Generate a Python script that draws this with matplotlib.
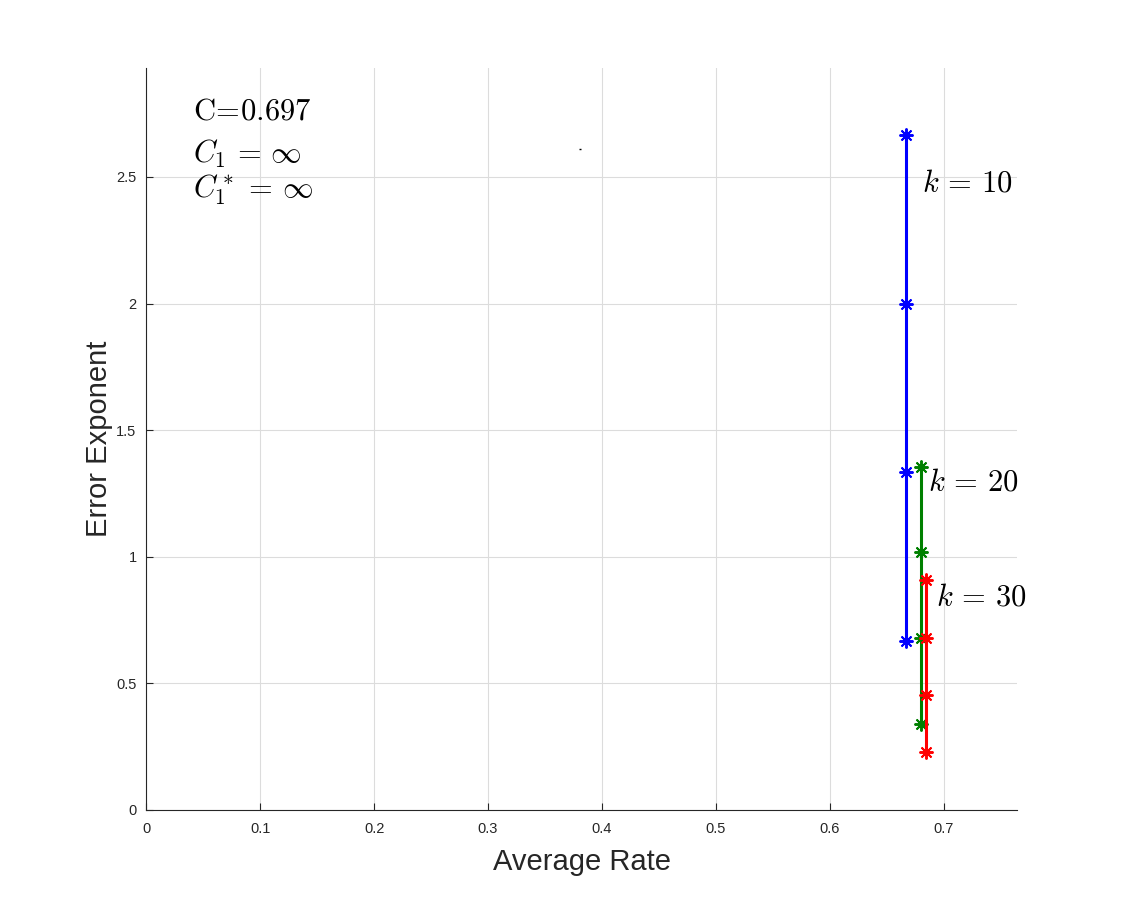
import numpy as np
import matplotlib.pyplot as plt

plt.rcParams['font.family'] = ['Liberation Sans', 'DejaVu Sans']
plt.rcParams['mathtext.fontset'] = 'cm'

# rate / exponent pairs for each k
rate_k10 = [0.6667, 0.6667, 0.6667, 0.6667]
exp_k10 = [0.667, 1.333, 2.0, 2.667]
rate_k20 = [0.680, 0.680, 0.680, 0.680]
exp_k20 = [0.339, 0.678, 1.017, 1.356]
rate_k30 = [0.685, 0.685, 0.685, 0.685]
exp_k30 = [0.227, 0.454, 0.681, 0.908]

xticks = [0, 0.1, 0.2, 0.3, 0.4, 0.5, 0.6, 0.7]
yticks = [0, 0.5, 1, 1.5, 2, 2.5]

fig = plt.figure(figsize=(11.24, 9.11), dpi=100)
ax = fig.add_axes([0.1302, 0.1109, 0.7743, 0.8141])

star = (8, 2, 0)
ax.plot(rate_k10, exp_k10, color='#0000ff', lw=2.2, marker=star, ms=10, mew=1.4)
ax.plot(rate_k20, exp_k20, color='#008000', lw=2.2, marker=star, ms=10, mew=1.4)
ax.plot(rate_k30, exp_k30, color='#ff0000', lw=2.2, marker=star, ms=10, mew=1.4)
ax.plot([0.381], [2.61], color='k', marker='_', ms=2, mew=1)

ax.text(0.681, 2.476, r'$k\,=\,10$', fontsize=22, va='center', ha='left')
ax.text(0.686, 1.295, r'$k\,=\,20$', fontsize=22, va='center', ha='left')
ax.text(0.693, 0.841, r'$k\,=\,30$', fontsize=22, va='center', ha='left')

ax.text(0.041, 2.757, r'$\mathrm{C\!=\!0.697}$', fontsize=22, va='center', ha='left')
ax.text(0.041, 2.59, r'$C_1\,=\,\infty$', fontsize=22, va='center', ha='left')
ax.text(0.041, 2.45, r'$C_1^*\,=\,\infty$', fontsize=22, va='center', ha='left')

ax.set_xlim(0, 0.7642)
ax.set_ylim(0, 2.929)
ax.set_xticks(xticks)
ax.set_xticklabels(['0', '0.1', '0.2', '0.3', '0.4', '0.5', '0.6', '0.7'])
ax.set_yticks(yticks)
ax.set_yticklabels(['0', '0.5', '1', '1.5', '2', '2.5'])
ax.tick_params(direction='in', labelsize=10.5, colors='#262626', length=5)
ax.tick_params(axis='x', pad=9)
ax.tick_params(axis='y', pad=7)
ax.grid(True, color='#dcdcdc', lw=0.8)
ax.set_axisbelow(True)
for s in ['top', 'right']:
    ax.spines[s].set_visible(False)
for s in ['left', 'bottom']:
    ax.spines[s].set_color('#262626')

ax.set_xlabel('Average Rate', fontsize=21, color='#262626', labelpad=8)
ax.set_ylabel('Error Exponent', fontsize=21, color='#262626', labelpad=2)

fig.savefig('out.png', dpi=100)
